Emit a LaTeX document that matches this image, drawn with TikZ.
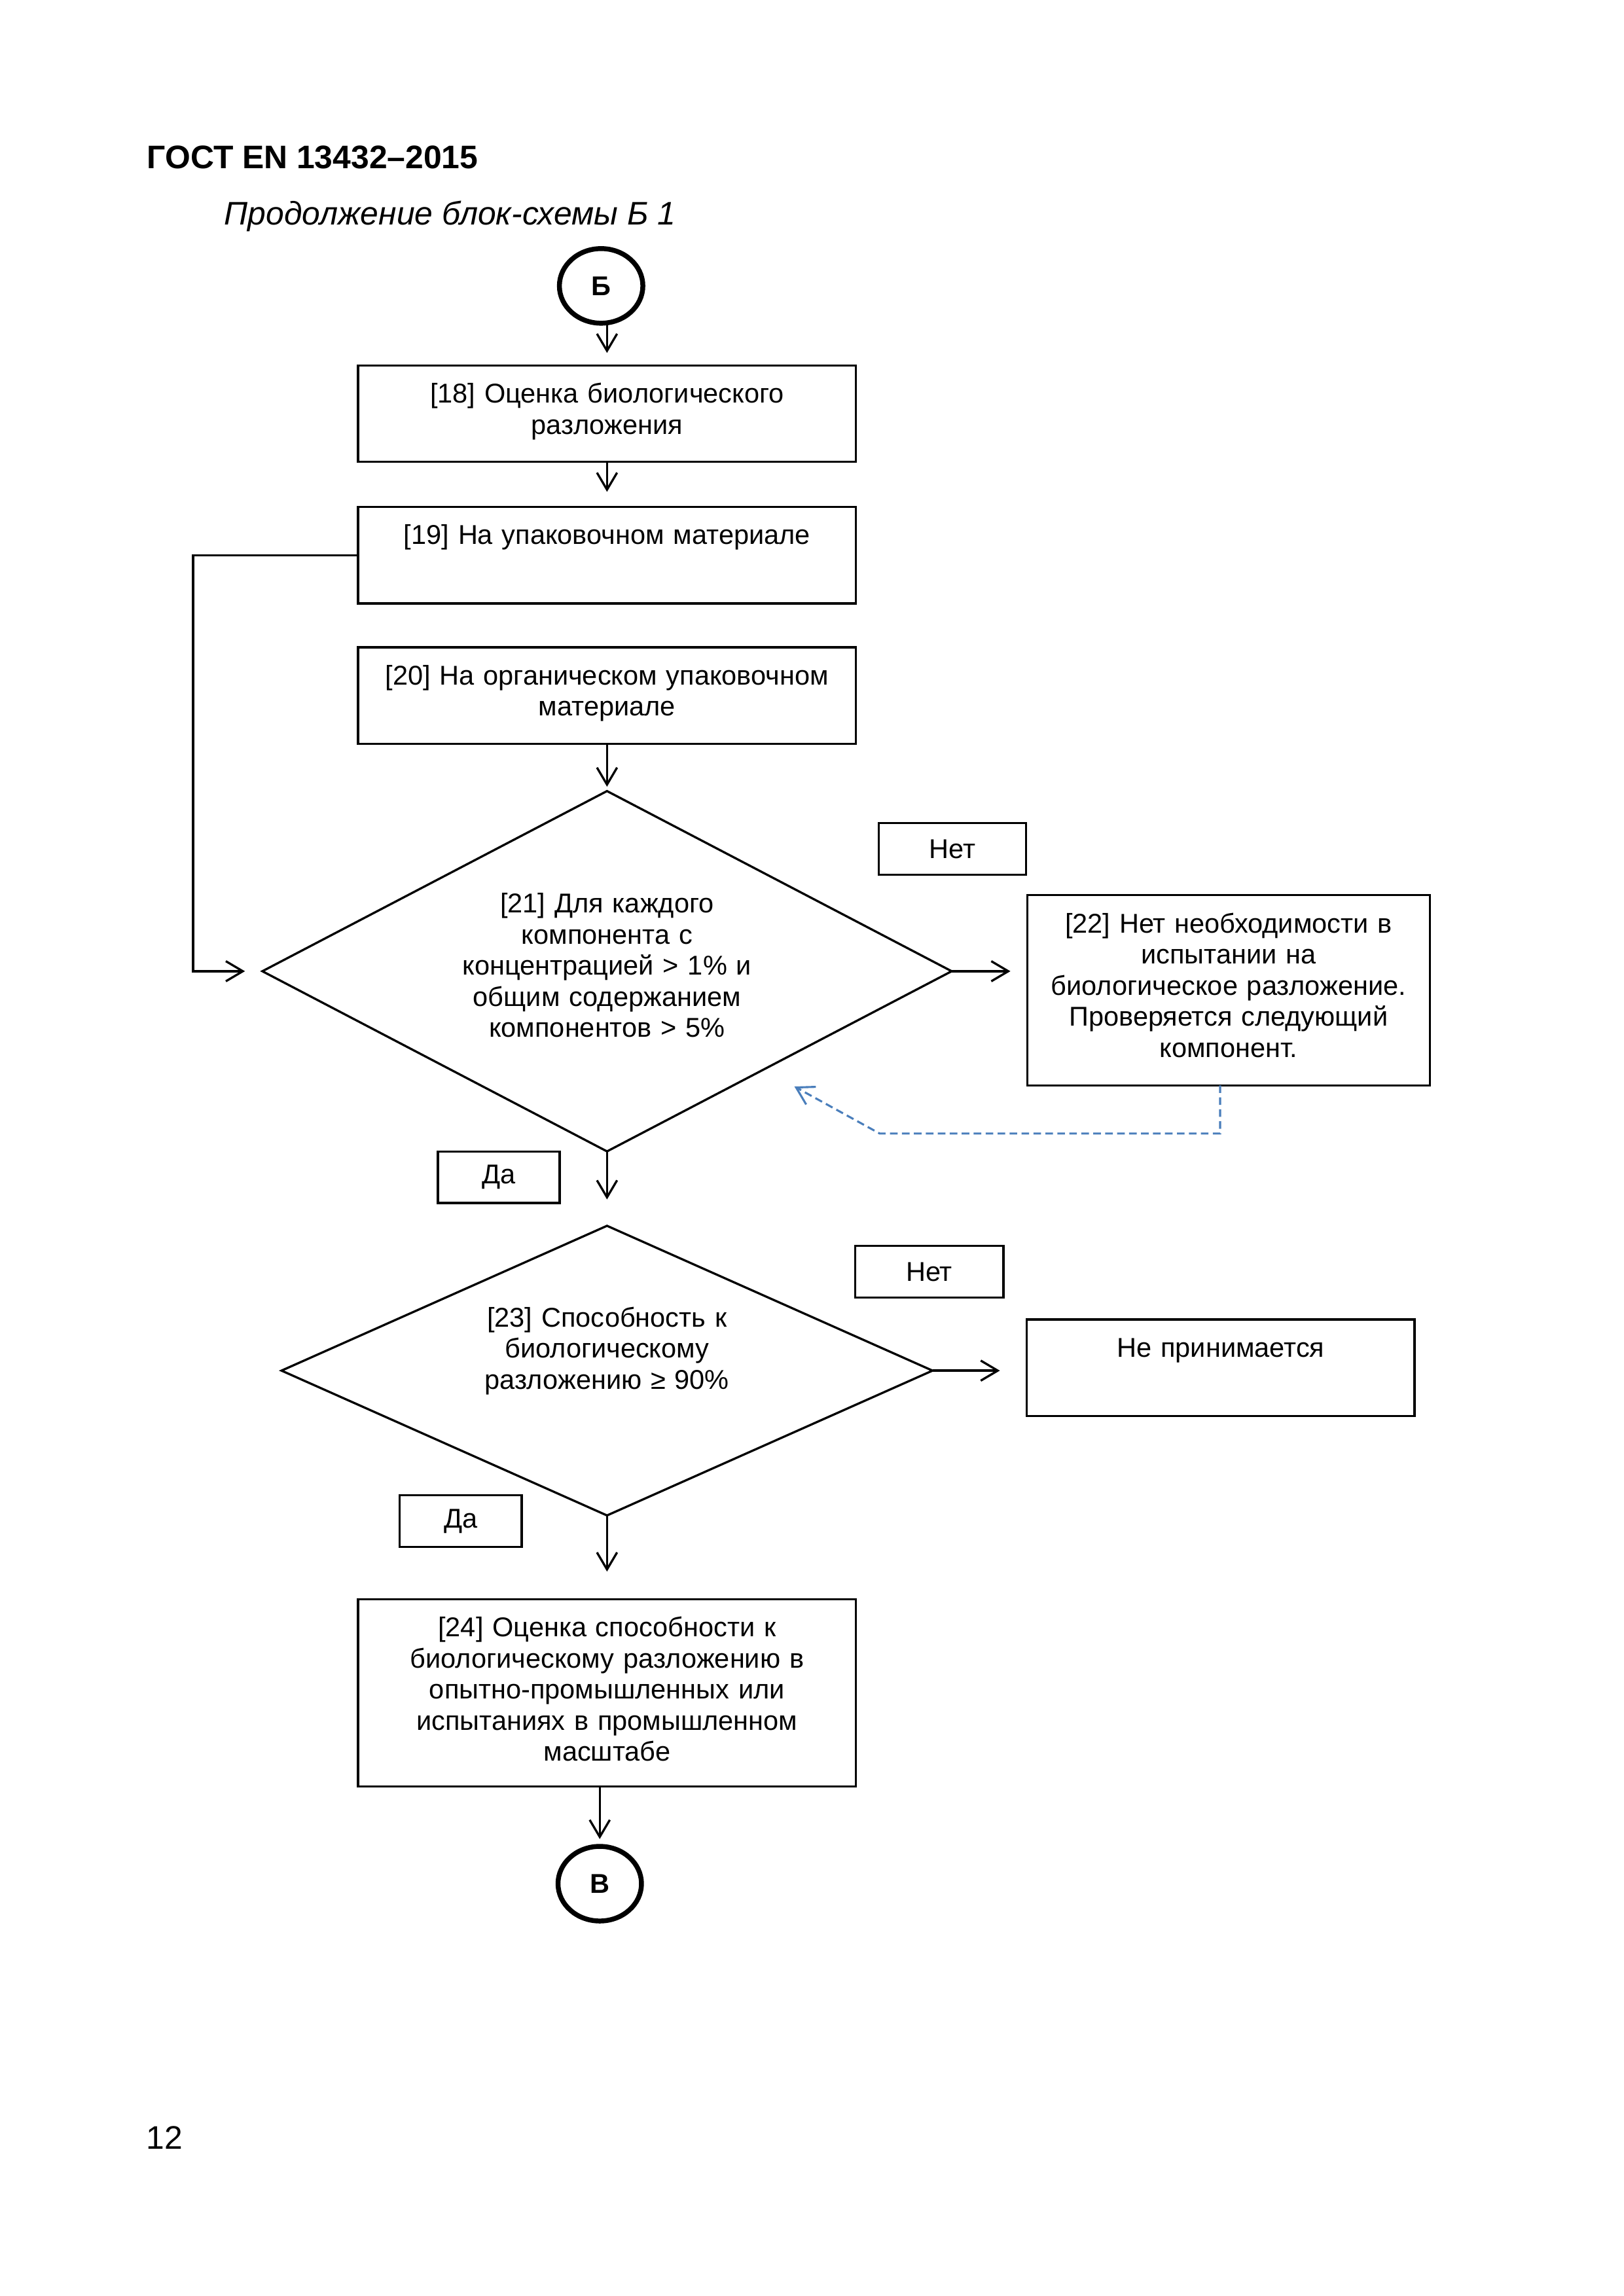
\documentclass[tikz,border=0pt]{standalone}
\usepackage{fontspec}
\setmainfont{Liberation Sans}
\usepackage{xcolor}
\usepackage{tikz}
\usetikzlibrary{arrows.meta,positioning,shapes.geometric}
\definecolor{GBlue}{HTML}{4A7EBB}
\newcommand{\bxfont}{\fontsize{10pt}{11.45pt}\selectfont}

\begin{document}
\begin{tikzpicture}[
  node distance=0.22in,
  bx/.style={draw,line width=0.8pt,inner sep=0pt,outer sep=0pt,align=center,
    text width=#1,text height=13.8pt,font=\bxfont},
  bx/.default=2.535in,
  dm/.style={draw,diamond,line width=0.8pt,inner sep=0pt,outer sep=0pt,
    align=center,text width=#1,font=\bxfont},
  lb/.style={draw,line width=0.8pt,inner sep=0pt,outer sep=0pt,
    minimum width=#1,minimum height=19pt,font=\bxfont},
  cn/.style={draw,ellipse,line width=1.8pt,inner sep=0pt,outer sep=0pt,
    minimum width=0.425in,minimum height=0.38in,font=\bfseries\bxfont},
  a/.style={-{Straight Barb[length=2.2mm,width=2.6mm]},line width=0.8pt},
  da/.style={a,color=GBlue,line width=0.75pt,dash pattern=on 2.8pt off 1.6pt}
]
  \useasboundingbox (0,0) rectangle (210mm,-297mm);
  \node[anchor=base west,inner sep=0pt,font=\bfseries\fontsize{12pt}{14pt}\selectfont]
    (title) at (0.747in,-0.857in) {ГОСТ EN 13432–2015};
  \node[anchor=base west,inner sep=0pt,font=\itshape\fontsize{12pt}{14pt}\selectfont]
    (sub) at (1.140in,-1.144in) {Продолжение блок-схемы Б 1};

  % main column
  \node[bx,text depth=21.7pt,anchor=north] (b18) at (3.091in,-1.861in)
    {[18] Оценка биологического\\разложения};
  \node[cn,above=0.215in of b18,xshift=-0.03in] (start) {Б};
  \node[bx,text depth=21.7pt,below=0.230in of b18] (b19) {[19] На упаковочном материале};
  \node[bx,text depth=21.7pt,below=0.223in of b19] (b20)
    {[20] На органическом упаковочном\\материале};
  \node[dm=1.6in,minimum width=3.51in,minimum height=1.835in,aspect=1.915,
    text depth=50.3pt,below=0.241in of b20] (d21)
    {[21] Для каждого\\компонента с\\концентрацией > 1\% и\\общим содержанием\\компонентов > 5\%};
  \node[bx=2.05in,text depth=56.2pt,right=0.385in of d21,yshift=-0.097in] (b22)
    {[22] Нет необходимости в\\испытании на\\биологическое разложение.\\Проверяется следующий\\компонент.};
  \node[lb=0.75in,above left=0.104in and 0.007in of b22] (no1) {Нет};
  \node[lb=0.62in,below left=0in and 0.241in of d21.south] (yes1) {Да};
  \node[dm=1.35in,minimum width=3.315in,minimum height=1.475in,aspect=2.26,
    text depth=39.5pt,below=0.379in of d21] (d23)
    {[23] Способность к\\биологическому\\разложению ≥ 90\%};
  \node[bx=1.975in,text depth=21.7pt,right=0.48in of d23,yshift=0.015in] (rej) {Не принимается};
  \node[lb=0.755in,above left=0.111in and 0.119in of rej] (no2) {Нет};
  \node[bx,text depth=55.1pt,below=0.427in of d23] (b24)
    {[24] Оценка способности к\\биологическому разложению в\\опытно-промышленных или\\испытаниях в промышленном\\масштабе};
  \node[lb=0.62in,above left=0.267in and 0.435in of b24.north] (yes2) {Да};
  \node[cn,below=0.305in of b24,xshift=-0.037in] (fin) {В};

  \node[anchor=base west,inner sep=0pt,font=\fontsize{12pt}{14pt}\selectfont]
    (page) at (0.743in,-10.945in) {12};

  % connectors
  \draw[a,shorten >=4.6pt] (start.south -| b18.north) -- (b18.north);
  \draw[a,shorten >=5.6pt] (b18) -- (b19);
  \draw[a,shorten >=1.6pt] (b20) -- (d21);
  \draw[a,shorten >=9.7pt] (d21) -- (d23);
  \draw[a,shorten >=10.2pt] (d23) -- (b24);
  \draw[a,shorten >=2.7pt] (b24.south -| fin) -- (fin);
  \draw[a,shorten >=6.2pt] (d21.east) -- (d21.east -| b22.west);
  \draw[a,shorten >=9.9pt] (d23.east) -- (d23.east -| rej.west);
  \draw[a,shorten >=6.4pt] (b19.west) -- ++(-0.84in,0) |- (d21.west);
  \coordinate (back) at ([shift={(0.954in,-0.587in)}]d21.center);
  \draw[da] ([xshift=-0.043in]b22.south) -- ++(0,-0.245in) -- ++(-1.734in,0) -- (back);
\end{tikzpicture}
\end{document}
